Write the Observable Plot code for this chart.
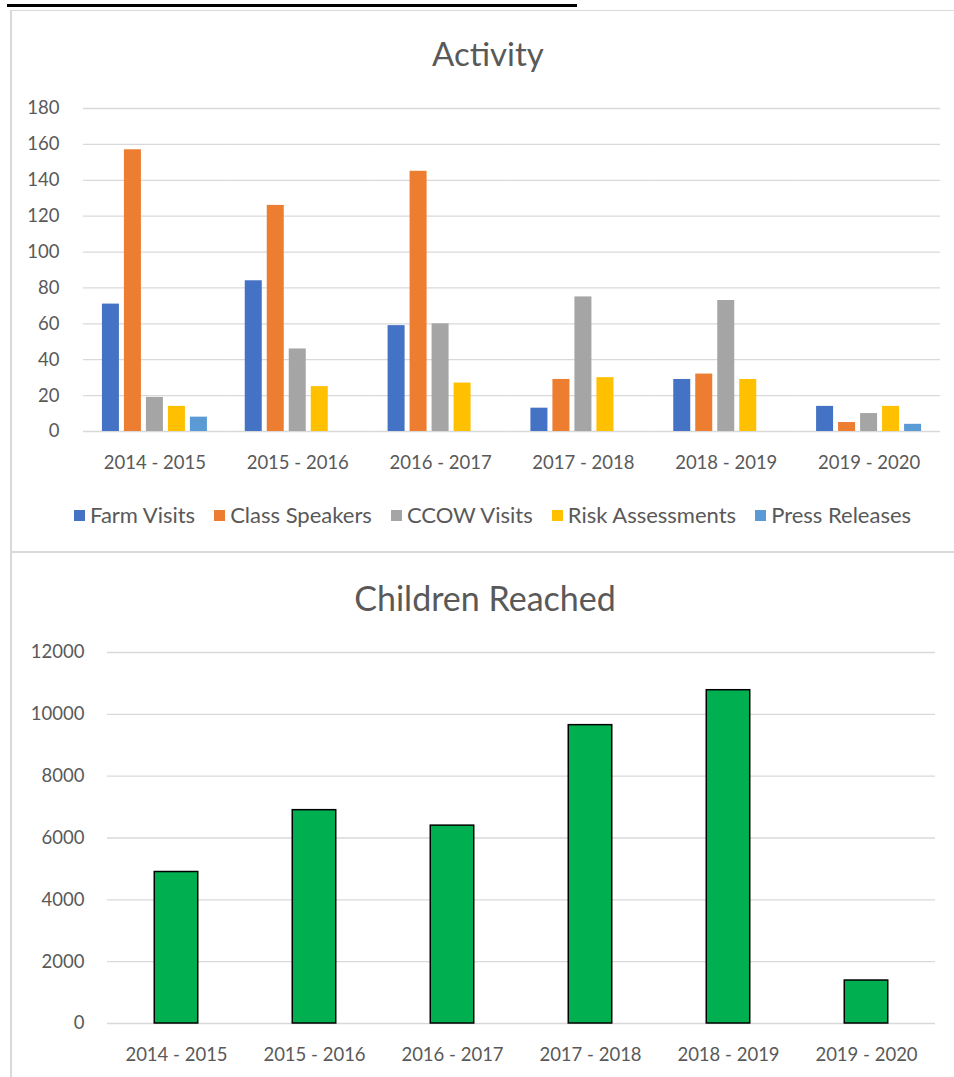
<!DOCTYPE html>
<html>
<head>
<meta charset="utf-8">
<script src="https://cdn.jsdelivr.net/npm/d3@7"></script>
<script src="https://cdn.jsdelivr.net/npm/@observablehq/plot@0.6"></script>
<style>
  html, body { margin: 0; padding: 0; background: #fff; }
  body { width: 954px; height: 1077px; position: relative; overflow: hidden; font-family: Lato, "Open Sans", sans-serif; color: #595959; }
  .title { position: absolute; width: 600px; text-align: center; line-height: 40px; color: #595959; white-space: nowrap; }
  .legend { position: absolute; display: flex; align-items: center; font-size: 22px; line-height: 26px; color: #595959; white-space: nowrap; }
  .legend .item { display: flex; align-items: center; margin-right: 19px; }
  .legend .sw { width: 11px; height: 11px; margin-right: 5px; }
  .line { position: absolute; background: #d9d9d9; }
</style>
</head>
<body>
<div id="root"></div>
<script>
// ---- data ----
const years = ["2014 - 2015", "2015 - 2016", "2016 - 2017", "2017 - 2018", "2018 - 2019", "2019 - 2020"];
const series = ["Farm Visits", "Class Speakers", "CCOW Visits", "Risk Assessments", "Press Releases"];
const seriesColors = ["#4472C4", "#ED7D31", "#A5A5A5", "#FFC000", "#5B9BD5"];
const farmVisits = [71, 84, 59, 13, 29, 14];
const classSpeakers = [157, 126, 145, 29, 32, 5];
const ccowVisits = [19, 46, 60, 75, 73, 10];
const riskAssessments = [14, 25, 27, 30, 29, 14];
const pressReleases = [8, null, null, null, null, 4];
const activityTicks = [0, 20, 40, 60, 80, 100, 120, 140, 160, 180];
const childrenReached = [4900, 6900, 6400, 9650, 10780, 1390];
const childrenTicks = [0, 2000, 4000, 6000, 8000, 10000, 12000];
const activityTitle = "Activity";
const childrenTitle = "Children Reached";

const seriesValues = [farmVisits, classSpeakers, ccowVisits, riskAssessments, pressReleases];
const activity = [];
years.forEach((yr, i) => series.forEach((s, j) => {
  const v = seriesValues[j][i];
  if (v != null) activity.push({year: yr, series: s, value: v});
}));
const children = years.map((yr, i) => ({year: yr, value: childrenReached[i]}));

const root = document.getElementById("root");
function add(el, css) { Object.assign(el.style, css); root.appendChild(el); return el; }
const fontStyle = {fontFamily: "Lato, 'Open Sans', sans-serif", fontSize: "18.5px", color: "#595959", background: "transparent", overflow: "visible"};

// ---- chart 1 ----
const t1 = document.createElement("div");
t1.className = "title"; t1.textContent = activityTitle;
add(t1, {top: "33px", left: (488 - 300) + "px", fontSize: "33px"});

const p1 = Plot.plot({
  width: 954, height: 395,
  marginTop: 18, marginBottom: 54, marginLeft: 83, marginRight: 14,
  style: fontStyle,
  fx: {domain: years, padding: 0, round: false, label: null, axis: "bottom", tickSize: 0, tickPadding: 24},
  x: {domain: series, paddingInner: 0.227, paddingOuter: 0.86, round: false, axis: null},
  y: {domain: [0, 180], ticks: activityTicks, tickSize: 0, tickPadding: 24, label: null},
  color: {domain: series, range: seriesColors},
  marks: [
    Plot.ruleY(activityTicks, {stroke: "#d9d9d9", strokeWidth: 1.3}),
    Plot.barY(activity, {fx: "year", x: "series", y: "value", fill: "series"})
  ]
});
add(p1, {position: "absolute", left: "0px", top: "90px"});

const lg = document.createElement("div");
lg.className = "legend";
series.forEach((s, j) => {
  const it = document.createElement("div"); it.className = "item";
  const sw = document.createElement("div"); sw.className = "sw"; sw.style.background = seriesColors[j];
  const tx = document.createElement("span"); tx.textContent = s;
  it.appendChild(sw); it.appendChild(tx); lg.appendChild(it);
});
add(lg, {left: "74px", top: "502px"});

// ---- chart 2 ----
const t2 = document.createElement("div");
t2.className = "title"; t2.textContent = childrenTitle;
add(t2, {top: "578px", left: (485 - 300) + "px", fontSize: "34px"});

const p2 = Plot.plot({
  width: 954, height: 447,
  marginTop: 22, marginBottom: 54, marginLeft: 107, marginRight: 19,
  style: fontStyle,
  x: {domain: years, paddingInner: 0.685, paddingOuter: 0.3425, round: false, tickSize: 0, tickPadding: 24, label: null},
  y: {domain: [0, 12000], ticks: childrenTicks, tickSize: 0, tickPadding: 23, label: null, tickFormat: d => String(d)},
  marks: [
    Plot.ruleY(childrenTicks, {stroke: "#d9d9d9", strokeWidth: 1.3}),
    Plot.barY(children, {x: "year", y: "value", fill: "#00B050", stroke: "#000", strokeWidth: 1.5})
  ]
});
add(p2, {position: "absolute", left: "0px", top: "630px"});

// ---- frame lines / header underline ----
add(document.createElement("div"), {position: "absolute", left: "7px", top: "4px", width: "570px", height: "3px", background: "#000"});
const l1 = document.createElement("div"); l1.className = "line";
add(l1, {left: "10px", top: "10px", width: "944px", height: "1px"});
const l2 = document.createElement("div"); l2.className = "line";
add(l2, {left: "10px", top: "10px", width: "1.5px", height: "1067px"});
const l3 = document.createElement("div"); l3.className = "line";
add(l3, {left: "10px", top: "551px", width: "944px", height: "2px"});
</script>
</body>
</html>
